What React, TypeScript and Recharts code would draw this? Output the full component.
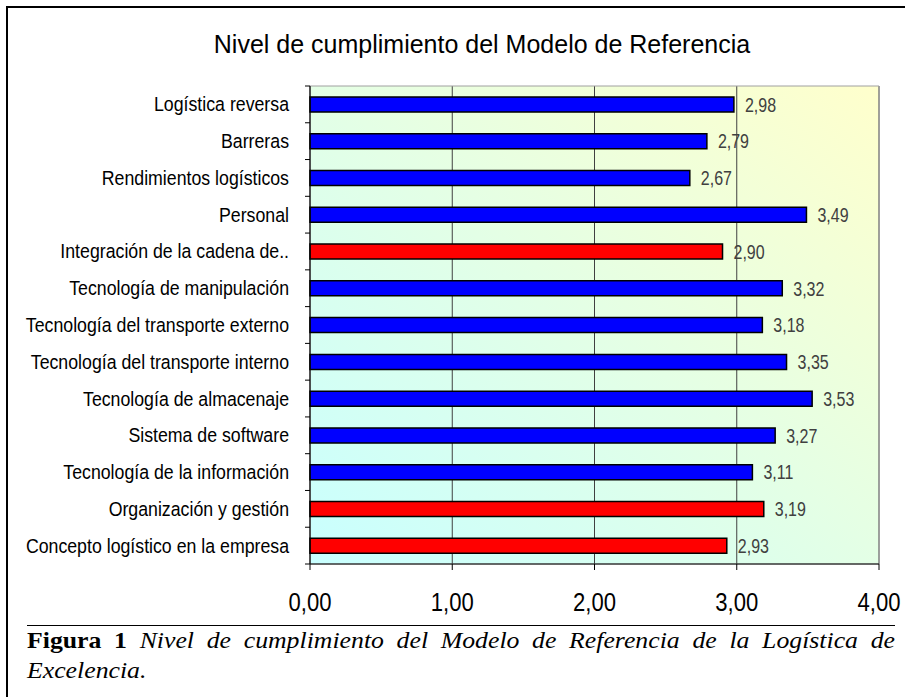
import React from 'react';
import {
  BarChart,
  Bar,
  XAxis,
  YAxis,
  CartesianGrid,
  Cell,
  LabelList,
  ReferenceArea,
} from 'recharts';

const categories = [
  'Logística reversa',
  'Barreras',
  'Rendimientos logísticos',
  'Personal',
  'Integración de la cadena de..',
  'Tecnología de manipulación',
  'Tecnología del transporte externo',
  'Tecnología del transporte interno',
  'Tecnología de almacenaje',
  'Sistema de software',
  'Tecnología de la información',
  'Organización y gestión',
  'Concepto logístico en la empresa',
];

const values = [2.98, 2.79, 2.67, 3.49, 2.9, 3.32, 3.18, 3.35, 3.53, 3.27, 3.11, 3.19, 2.93];

// bars drawn in red in the original figure
const highlighted = [false, false, false, false, true, false, false, false, false, false, false, true, true];

const xTicks = [0, 1, 2, 3, 4];

const data = categories.map((name, i) => ({ name, value: values[i], hl: highlighted[i] }));

const SANS = "'Liberation Sans', Arial, sans-serif";

const PLOT_TOP = 86;
const PLOT_BOTTOM = 564;
const BAND = (PLOT_BOTTOM - PLOT_TOP) / categories.length;

const fmt = (v: any) => Number(v).toFixed(2).replace('.', ',');

// narrow text (the original uses a condensed face)
function NarrowText({ x, y, size, sx, anchor, dy, fill, children }: any) {
  return (
    <text
      transform={`translate(${x},${y}) scale(${sx},1)`}
      x={0}
      y={0}
      dy={dy}
      textAnchor={anchor}
      fontFamily={SANS}
      fontSize={size}
      fill={fill}
    >
      {children}
    </text>
  );
}

function CategoryTick(props: any) {
  const { x, y, payload, index } = props;
  const axisX = x + 4;
  return (
    <g>
      <line x1={axisX - 5} x2={axisX} y1={y + BAND / 2} y2={y + BAND / 2} stroke="#000" />
      {index === 0 && (
        <line x1={axisX - 5} x2={axisX} y1={y - BAND / 2} y2={y - BAND / 2} stroke="#000" />
      )}
      <NarrowText x={axisX - 21} y={y} size={19.5} sx={0.91} anchor="end" dy="0.36em" fill="#000">
        {payload.value}
      </NarrowText>
    </g>
  );
}

function ValueTick(props: any) {
  const { x, y, payload } = props;
  return (
    <NarrowText x={x} y={y} size={26} sx={0.85} anchor="middle" dy="0.71em" fill="#000">
      {fmt(payload.value)}
    </NarrowText>
  );
}

function BarValue(props: any) {
  const { x, y, width, height, value } = props;
  return (
    <NarrowText
      x={Number(x) + Number(width) + 11}
      y={Number(y) + Number(height) / 2}
      size={20}
      sx={0.8}
      anchor="start"
      dy="0.36em"
      fill="#404040"
    >
      {fmt(value)}
    </NarrowText>
  );
}

export default function App() {
  return (
    <div style={{ position: 'absolute', left: 0, top: 0, width: 905, height: 697, background: '#fff', overflow: 'hidden' }}>
      <div
        style={{
          position: 'absolute',
          left: 6,
          top: 6,
          width: 905,
          height: 700,
          borderLeft: '2px solid #000',
          borderTop: '2px solid #000',
        }}
      />
      <div
        style={{
          position: 'absolute',
          left: 82,
          top: 32,
          width: 800,
          textAlign: 'center',
          fontFamily: SANS,
          fontSize: 25,
          lineHeight: '25px',
          color: '#000',
        }}
      >
        Nivel de cumplimiento del Modelo de Referencia
      </div>
      <div style={{ position: 'absolute', left: 0, top: 0 }}>
        <BarChart
          width={905}
          height={620}
          data={data}
          layout="vertical"
          margin={{ top: PLOT_TOP, right: 26, left: 10, bottom: 620 - PLOT_BOTTOM - 30 }}
        >
          <defs>
            <linearGradient id="plotBg" x1="0" y1="1" x2="1" y2="0">
              <stop offset="0%" stopColor="#c8ffff" />
              <stop offset="100%" stopColor="#ffffcc" />
            </linearGradient>
          </defs>
          <CartesianGrid fill="url(#plotBg)" horizontal={false} stroke="#404040" strokeOpacity={1} />
          <ReferenceArea x1={0} x2={4} fill="none" stroke="#a0a0a0" strokeWidth={1} />
          <XAxis
            type="number"
            domain={[0, 4]}
            ticks={xTicks}
            height={30}
            tickSize={6}
            tickMargin={23}
            stroke="#000"
            tick={<ValueTick />}
          />
          <YAxis
            type="category"
            dataKey="name"
            width={300}
            tickLine={false}
            tickSize={0}
            tickMargin={4}
            stroke="#000"
            interval={0}
            tick={<CategoryTick />}
          />
          <Bar dataKey="value" barSize={15} stroke="#000" strokeWidth={1.5} isAnimationActive={false}>
            {data.map((d, i) => (
              <Cell key={i} fill={d.hl ? '#ff0000' : '#0000ff'} />
            ))}
            <LabelList dataKey="value" content={<BarValue />} />
          </Bar>
        </BarChart>
      </div>
      <div
        style={{
          position: 'absolute',
          left: 27,
          top: 625,
          width: 868,
          height: 1,
          background: '#000',
        }}
      />
      <div
        style={{
          position: 'absolute',
          left: 27,
          top: 626,
          width: 775,
          transform: 'scaleX(1.12)',
          transformOrigin: '0 0',
          fontFamily: "'Liberation Serif', 'Times New Roman', serif",
          fontSize: 23,
          lineHeight: '30px',
          color: '#000',
        }}
      >
        <div style={{ textAlign: 'justify', textAlignLast: 'justify' }}>
          <b>Figura 1</b> <i>Nivel de cumplimiento del Modelo de Referencia de la Logística de</i>
        </div>
        <div>
          <i>Excelencia.</i>
        </div>
      </div>
    </div>
  );
}
